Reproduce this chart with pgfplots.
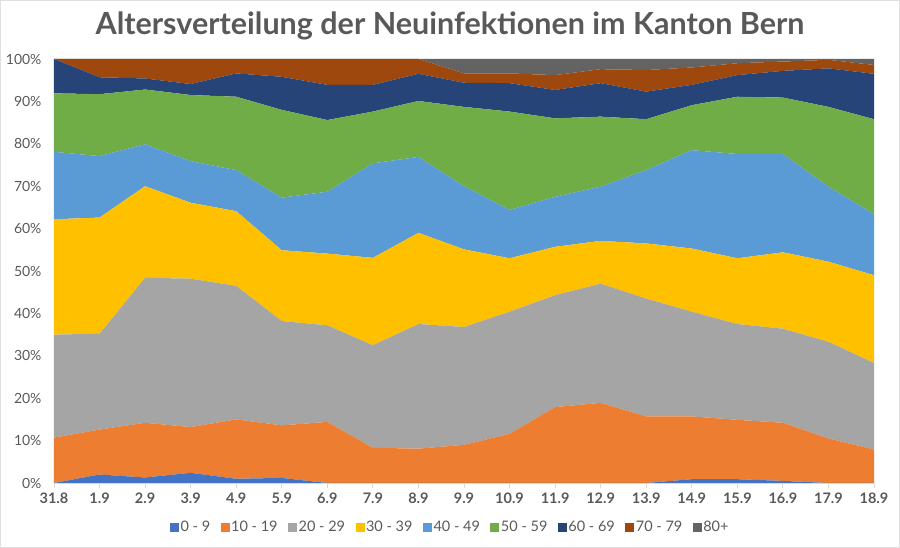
\documentclass[border=0pt]{standalone}
\usepackage{fontspec}
\setmainfont{Lato}
\newfontfamily\titlefont{Lato}
\usepackage{pgfplots}
\pgfplotsset{compat=1.18}
\usepackage{pgfplotstable}

\definecolor{cA}{HTML}{4472C4}
\definecolor{cB}{HTML}{ED7D31}
\definecolor{cC}{HTML}{A5A5A5}
\definecolor{cD}{HTML}{FFC000}
\definecolor{cE}{HTML}{5B9BD5}
\definecolor{cF}{HTML}{70AD47}
\definecolor{cG}{HTML}{264478}
\definecolor{cH}{HTML}{9E480E}
\definecolor{cI}{HTML}{636363}
\definecolor{txt}{HTML}{595959}
\definecolor{axc}{HTML}{D9D9D9}

\pgfplotstableread{
x  a    b    c    d    e    f    g    h    i
0  0    10.7 24.3 27.2 15.9 13.8 8.1  0    0
1  2.0  10.6 22.6 27.4 14.5 14.6 4.0  4.3  0
2  1.3  12.9 34.2 21.6 9.9  12.9 2.6  4.6  0
3  2.4  10.8 35.0 17.9 9.8  15.6 2.6  5.9  0
4  1.0  14.0 31.5 17.6 9.7  17.3 5.5  3.4  0
5  1.2  12.4 24.6 16.7 12.4 20.7 7.8  4.2  0
6  0    14.4 22.8 16.9 14.6 16.9 8.3  6.1  0
7  0    8.3  24.2 20.6 22.3 12.2 6.3  6.1  0
8  0    8.1  29.4 21.5 17.9 13.2 6.4  3.5  0
9  0    9.0  27.8 18.3 14.9 18.7 5.7  2.2  3.4
10 0    11.6 28.8 12.6 11.4 23.2 6.7  2.3  3.4
11 0    17.9 26.4 11.4 11.8 18.5 6.7  3.5  3.8
12 0    18.9 28.1 10.1 12.8 16.5 7.9  3.3  2.4
13 0    15.7 27.8 13.0 17.3 12.0 6.5  5.1  2.6
14 0.9  14.8 24.7 14.9 23.2 10.6 4.8  4.1  2.0
15 0.9  14.0 22.6 15.5 24.6 13.5 5.1  2.8  1.0
16 0.5  13.7 22.2 18.0 23.2 13.3 6.3  2.2  0.6
17 0    10.5 22.8 18.9 17.7 18.8 9.1  2.0  0.2
18 0    7.9  20.4 20.7 14.4 22.4 10.7 2.1  1.4
}\datatable

\begin{document}
\begin{tikzpicture}
\useasboundingbox (0,0) rectangle (900pt,548pt);
\draw[black!12] (0.5pt,0.5pt) rectangle (899.5pt,547.5pt);
\node[font=\titlefont\bfseries\fontsize{30.5}{34}\selectfont, text=txt] at (450pt,522pt) {Altersverteilung der Neuinfektionen im Kanton Bern};
\begin{axis}[
  at={(54pt,65pt)}, anchor=south west,
  scale only axis, width=820pt, height=424pt,
  stack plots=y,
  xmin=0, xmax=18, ymin=0, ymax=100,
  axis x line*=bottom, axis y line*=left,
  y axis line style={draw=none},
  x axis line style={draw=axc, line width=0.8pt},
  xtick={0,...,18},
  xticklabels={31.8,1.9,2.9,3.9,4.9,5.9,6.9,7.9,8.9,9.9,10.9,11.9,12.9,13.9,14.9,15.9,16.9,17.9,18.9},
  ytick={0,10,...,100},
  yticklabel={\pgfmathprintnumber{\tick}\%},
  /pgf/number format/assume math mode=true,
  x tick style={draw=axc, line width=0.8pt},
  tick align=outside,
  major tick length=5pt,
  y tick style={draw=none},
  x tick label style={font=\bfseries\fontsize{14.5}{16}\selectfont, text=txt, yshift=-1pt},
  y tick label style={font=\fontsize{14}{16}\selectfont, text=txt, xshift=-4pt},
  legend columns=9,
  legend style={at={(0.483,-0.104)}, anchor=center, draw=none, fill=none,
    font=\fontsize{14.5}{16}\selectfont, text=txt,
    nodes={inner sep=1.5pt},
    /tikz/every even column/.append style={column sep=9pt}},
  legend image code/.code={\fill[#1] (0pt,-4.5pt) rectangle (9pt,4.5pt);},
  clip=true,
]
\addplot[fill=cA, draw=none] table[x=x,y=a] {\datatable} \closedcycle;
\addplot[fill=cB, draw=none] table[x=x,y=b] {\datatable} \closedcycle;
\addplot[fill=cC, draw=none] table[x=x,y=c] {\datatable} \closedcycle;
\addplot[fill=cD, draw=none] table[x=x,y=d] {\datatable} \closedcycle;
\addplot[fill=cE, draw=none] table[x=x,y=e] {\datatable} \closedcycle;
\addplot[fill=cF, draw=none] table[x=x,y=f] {\datatable} \closedcycle;
\addplot[fill=cG, draw=none] table[x=x,y=g] {\datatable} \closedcycle;
\addplot[fill=cH, draw=none] table[x=x,y=h] {\datatable} \closedcycle;
\addplot[fill=cI, draw=none] table[x=x,y=i] {\datatable} \closedcycle;
\legend{0 - 9,10 - 19,20 - 29,30 - 39,40 - 49,50 - 59,60 - 69,70 - 79,80+}
\end{axis}
\end{tikzpicture}
\end{document}
